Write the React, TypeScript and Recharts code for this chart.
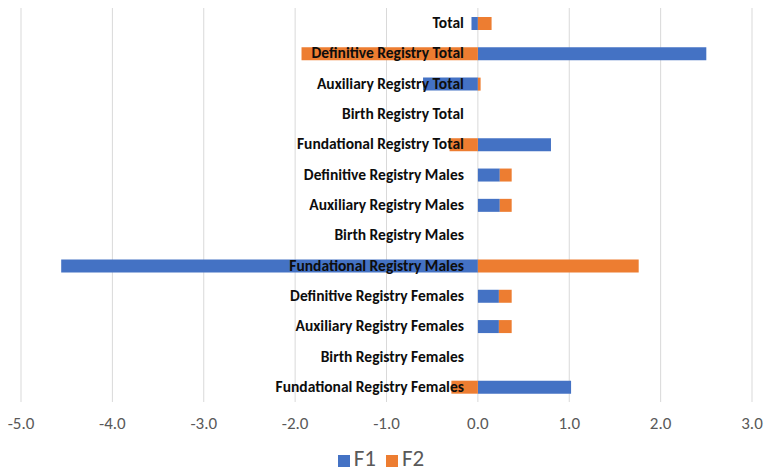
import React from "react";
import { BarChart, Bar, XAxis, YAxis, CartesianGrid, Legend } from "recharts";

const categories = [
  "Total",
  "Definitive Registry Total",
  "Auxiliary Registry Total",
  "Birth Registry Total",
  "Fundational Registry Total",
  "Definitive Registry Males",
  "Auxiliary Registry Males",
  "Birth Registry Males",
  "Fundational Registry Males",
  "Definitive Registry Females",
  "Auxiliary Registry Females",
  "Birth Registry Females",
  "Fundational Registry Females",
];

const f1Values = [-0.07, 2.5, -0.6, 0, 0.8, 0.24, 0.24, 0, -4.56, 0.23, 0.23, 0, 1.02];
const f2Values = [0.15, -1.93, 0.03, 0, -0.31, 0.13, 0.13, 0, 1.76, 0.14, 0.14, 0, -0.29];

const xTicks = [-5, -4, -3, -2, -1, 0, 1, 2, 3];

const data = categories.map((name, i) => ({ name, F1: f1Values[i], F2: f2Values[i] }));

const WIDTH = 764;
const HEIGHT = 472;
const MARGIN = { top: 8, right: 12, bottom: 2, left: 20 };
const Y_AXIS_W = 1;
const X_MIN = xTicks[0];
const X_MAX = xTicks[xTicks.length - 1];

// category labels sit just left of the zero line, as in a value axis crossing at 0
const plotLeft = MARGIN.left + Y_AXIS_W;
const zeroX =
  plotLeft + ((0 - X_MIN) / (X_MAX - X_MIN)) * (WIDTH - plotLeft - MARGIN.right);

const FONT = "Carlito, Calibri, 'Liberation Sans Narrow', 'Liberation Sans', sans-serif";

const CategoryTick = (props: any) => {
  const { y, payload } = props;
  return (
    <text
      x={zeroX - 14}
      y={y}
      dy={5}
      textAnchor="end"
      fontFamily={FONT}
      fontWeight="bold"
      fontSize={15.5}
      fill="#0d0d0d"
    >
      {payload.value}
    </text>
  );
};

export default function App() {
  return (
    <div style={{ position: "absolute", left: 0, top: 0, background: "#fff" }}>
      <BarChart
        width={WIDTH}
        height={HEIGHT}
        data={data}
        layout="vertical"
        stackOffset="sign"
        margin={MARGIN}
        barSize={13}
      >
        <CartesianGrid horizontal={false} stroke="#d9d9d9" strokeWidth={1} />
        <XAxis
          type="number"
          domain={[X_MIN, X_MAX]}
          ticks={xTicks}
          tickFormatter={(v: number) => v.toFixed(1)}
          axisLine={false}
          tickLine={false}
          tick={{ fill: "#595959", fontSize: 17, fontFamily: FONT }}
          tickMargin={9}
          height={44}
        />
        <Bar dataKey="F1" stackId="s" fill="#4472C4" isAnimationActive={false} />
        <Bar dataKey="F2" stackId="s" fill="#ED7D31" isAnimationActive={false} />
        <YAxis
          type="category"
          dataKey="name"
          width={Y_AXIS_W}
          axisLine={false}
          tickLine={false}
          interval={0}
          tick={<CategoryTick />}
        />
        <Legend
          verticalAlign="bottom"
          align="center"
          iconType="square"
          iconSize={12}
          wrapperStyle={{ fontFamily: FONT, fontSize: 23, color: "#595959", lineHeight: "24px" }}
          formatter={(value: string) => <span style={{ color: "#595959" }}>{value}</span>}
        />
      </BarChart>
    </div>
  );
}
